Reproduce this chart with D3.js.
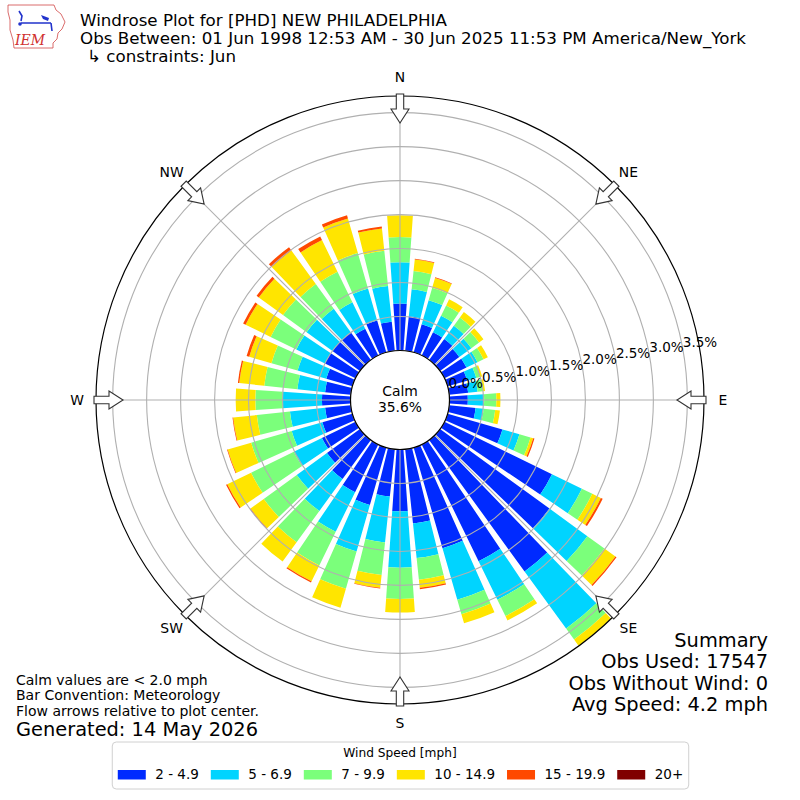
<!DOCTYPE html>
<html>
<head>
<meta charset="utf-8">
<script src="https://cdn.jsdelivr.net/npm/d3@7"></script>
<style>
body { margin: 0; background: #fff; }
svg { font-family: "DejaVu Sans", sans-serif; }
</style>
</head>
<body>
<div id="viz_windrose"></div>
<script>
// directions (deg, meteorological) and percent of obs per speed bin
const directions = [0, 10, 20, 30, 40, 50, 60, 70, 80, 90, 100, 110, 120, 130, 140, 150, 160, 170,
                    180, 190, 200, 210, 220, 230, 240, 250, 260, 270, 280, 290, 300, 310, 320, 330, 340, 350];
const pct_2_5   = [.69, .51, .43, .38, .38, .35, .36, .30, .28, .27, .39, .84, 1.76, 1.99, 2.39, 1.91, 1.54, 1.10,
                   .91, .70, .88, .78, .71, .60, .55, .46, .38, .42, .38, .40, .50, .50, .50, .44, .49, .43];
const pct_5_7   = [.61, .40, .37, .27, .24, .22, .18, .14, .14, .24, .12, .26, .49, .69, 1.04, .63, .79, .51,
                   .83, .68, .71, .65, .58, .55, .46, .47, .52, .58, .41, .44, .47, .47, .43, .43, .49, .53];
const pct_7_10  = [.37, .27, .19, .17, .15, .14, .10, .06, .08, .18, .17, .17, .17, .31, .20, .27, .22, .32,
                   .46, .48, .57, .55, .57, .60, .70, .62, .49, .40, .49, .40, .42, .43, .45, .50, .54, .52];
const pct_10_15 = [.32, .17, .15, .10, .10, .08, .07, .03, .03, .06, .07, .04, .14, .20, .11, .07, .14, .12,
                   .20, .19, .29, .26, .35, .24, .39, .36, .35, .29, .37, .34, .41, .44, .61, .52, .53, .33];
const pct_15_20 = [0, .01, .01, 0, 0, 0, 0, 0, 0, 0, 0, .02, .03, .02, 0, 0, 0, .02,
                   0, .01, 0, .02, 0, .01, .02, .01, .01, 0, .02, .04, .04, .04, .06, .06, .05, .03];
const pct_20p   = [0, 0, 0, 0, 0, 0, 0, 0, 0, 0, 0, 0, 0, 0, 0, 0, 0, 0,
                   0, 0, 0, 0, 0, 0, 0, 0, 0, 0, 0, 0, 0, 0, 0, 0, 0, 0];
const speedBins = ['2 - 4.9', '5 - 6.9', '7 - 9.9', '10 - 14.9', '15 - 19.9', '20+'];
const binColors = ['#002aff', '#00d4ff', '#7bff7b', '#ffe500', '#ff4900', '#800000'];
const calmPct = 35.6;
const ringTicks = [0, 0.5, 1.0, 1.5, 2.0, 2.5, 3.0, 3.5];
const compassNames = ['N', 'NE', 'E', 'SE', 'S', 'SW', 'W', 'NW'];
const compassAngles = [0, 45, 90, 135, 180, 225, 270, 315];

const titleLines = ['Windrose Plot for [PHD] NEW PHILADELPHIA',
                    'Obs Between: 01 Jun 1998 12:53 AM - 30 Jun 2025 11:53 PM America/New_York',
                    '\u21b3 constraints: Jun'];
const noteLines = ['Calm values are < 2.0 mph', 'Bar Convention: Meteorology', 'Flow arrows relative to plot center.'];
const generatedText = 'Generated: 14 May 2026';
const summaryLines = ['Summary', 'Obs Used: 17547', 'Obs Without Wind: 0', 'Avg Speed: 4.2 mph'];

const width = 800, height = 800;
const cx = 400, cy = 400;
const rOuter = 304;
const rad = Math.PI / 180;

const svg = d3.select('#viz_windrose')
    .append('svg')
    .attr('width', width)
    .attr('height', height);

// radial scale, calm circle sits at 0%
const r = d3.scaleLinear().domain([0, 3.745]).range([49.5, rOuter]);

const rows = directions.map(function(dir, i) {
    const row = {dir: dir};
    const cols = [pct_2_5, pct_5_7, pct_7_10, pct_10_15, pct_15_20, pct_20p];
    speedBins.forEach(function(b, j) { row[b] = cols[j][i]; });
    return row;
});
const layers = d3.stack().keys(speedBins)(rows);

svg.append('defs').append('clipPath').attr('id', 'rose_clip')
    .append('circle').attr('cx', 0).attr('cy', 0).attr('r', rOuter);

const arc = d3.arc()
    .innerRadius(d => r(d[0]))
    .outerRadius(d => r(d[1]))
    .startAngle(d => (d.data.dir - 4) * rad)
    .endAngle(d => (d.data.dir + 4) * rad);

const rose = svg.append('g')
    .attr('transform', `translate(${cx},${cy})`);

// bars
rose.append('g')
    .attr('clip-path', 'url(#rose_clip)')
    .selectAll('g')
    .data(layers)
    .join('g')
    .attr('fill', (d, i) => binColors[i])
    .selectAll('path')
    .data(d => d.filter(p => p[1] - p[0] > 0))
    .join('path')
    .attr('d', arc);

// grid rings and spokes (drawn above bars)
rose.append('g').selectAll('circle')
    .data(ringTicks)
    .join('circle')
    .attr('r', d => r(d))
    .attr('fill', 'none')
    .attr('stroke', '#b0b0b0')
    .attr('stroke-width', 1.1);

rose.append('g').selectAll('line')
    .data(compassAngles)
    .join('line')
    .attr('x1', d => r(0) * Math.sin(d * rad))
    .attr('y1', d => -r(0) * Math.cos(d * rad))
    .attr('x2', d => rOuter * Math.sin(d * rad))
    .attr('y2', d => -rOuter * Math.cos(d * rad))
    .attr('stroke', '#b0b0b0')
    .attr('stroke-width', 1.1);

// calm circle
rose.append('circle')
    .attr('r', r(0))
    .attr('fill', 'white')
    .attr('stroke', 'black')
    .attr('stroke-width', 1.2);
rose.append('text')
    .attr('text-anchor', 'middle')
    .attr('y', -4)
    .style('font-size', '13.9px')
    .text('Calm');
rose.append('text')
    .attr('text-anchor', 'middle')
    .attr('y', 12)
    .style('font-size', '13.9px')
    .text(calmPct.toFixed(1) + '%');

// ring labels
rose.append('g').selectAll('text')
    .data(ringTicks)
    .join('text')
    .attr('text-anchor', 'middle')
    .attr('x', d => r(d) * Math.cos(10 * rad) + 17)
    .attr('y', d => -r(d) * Math.sin(10 * rad) - 8.6 + 5)
    .style('font-size', '13.5px')
    .text(d => d.toFixed(1) + '%');

// outer frame
rose.append('circle')
    .attr('r', rOuter)
    .attr('fill', 'none')
    .attr('stroke', 'black')
    .attr('stroke-width', 1.2);

// compass arrows
rose.append('g').selectAll('path')
    .data(compassAngles)
    .join('path')
    .attr('transform', d => `rotate(${d})`)
    .attr('d', 'M0,-277 L9,-291 L3.7,-291 L3.7,-306 L-3.7,-306 L-3.7,-291 L-9,-291 Z')
    .attr('fill', 'white')
    .attr('stroke', '#333')
    .attr('stroke-width', 1.1);

rose.append('g').selectAll('text')
    .data(compassNames)
    .join('text')
    .attr('text-anchor', 'middle')
    .attr('x', (d, i) => 323 * Math.sin(compassAngles[i] * rad))
    .attr('y', (d, i) => -323 * Math.cos(compassAngles[i] * rad) + 5)
    .style('font-size', '13.9px')
    .text(d => d);

// title block
svg.append('g').selectAll('text')
    .data(titleLines)
    .join('text')
    .attr('x', (d, i) => i == 2 ? 87 : 80)
    .attr('y', (d, i) => 26 + i * 18)
    .style('font-size', '16.7px')
    .text(d => d);

// IEM logo (rough)
const logo = svg.append('g');
logo.append('path')
    .attr('d', 'M8,5 L54,5 L56,10 L61,14 L65,22 L62,29 L58,33 L57,39 L53,43 L53,48 L14,48 L13,40 L10,30 L10,20 L8,12 Z')
    .attr('fill', 'white')
    .attr('stroke', '#d04848')
    .attr('stroke-width', 0.8);
logo.append('path')
    .attr('d', 'M21,23 L51,23 M51,23 L52,31 M19,11 L22,16 L21,21')
    .attr('fill', 'none')
    .attr('stroke', '#2233cc')
    .attr('stroke-width', 1.6);
logo.append('path')
    .attr('d', 'M41,15 L49,18 L48,21 L43,19 Z')
    .attr('fill', '#2233cc');
logo.append('circle').attr('cx', 20).attr('cy', 24).attr('r', 1.8).attr('fill', '#2233cc');
logo.append('text')
    .attr('x', 15)
    .attr('y', 45)
    .style('font-family', '"DejaVu Serif", serif')
    .style('font-style', 'italic')
    .style('font-size', '14px')
    .attr('fill', '#d03030')
    .text('IEM');

// notes, bottom left
svg.append('g').selectAll('text')
    .data(noteLines)
    .join('text')
    .attr('x', 16)
    .attr('y', (d, i) => 684.5 + i * 15.8)
    .style('font-size', '14px')
    .text(d => d);
svg.append('text')
    .attr('x', 16)
    .attr('y', 735.5)
    .style('font-size', '19.4px')
    .text(generatedText);

// summary, bottom right
svg.append('g').selectAll('text')
    .data(summaryLines)
    .join('text')
    .attr('x', 768)
    .attr('y', (d, i) => 646.7 + i * 21.4)
    .attr('text-anchor', 'end')
    .style('font-size', '19.4px')
    .text(d => d);

// legend
const legend = svg.append('g');
const legendBox = legend.append('rect')
    .attr('y', 742)
    .attr('height', 47)
    .attr('rx', 4)
    .attr('fill', 'white')
    .attr('stroke', '#d0d0d0')
    .attr('stroke-width', 1);
legend.append('text')
    .attr('x', 400)
    .attr('y', 757)
    .attr('text-anchor', 'middle')
    .style('font-size', '12.2px')
    .text('Wind Speed [mph]');

const items = legend.append('g');
let xpos = 0;
speedBins.forEach(function(b, i) {
    items.append('rect')
        .attr('x', xpos)
        .attr('y', 770)
        .attr('width', 28)
        .attr('height', 9.5)
        .attr('fill', binColors[i]);
    const t = items.append('text')
        .attr('x', xpos + 37.5)
        .attr('y', 779)
        .style('font-size', '13.5px')
        .text(b);
    xpos += 37.5 + t.node().getComputedTextLength() + 12;
});
const itemsWidth = xpos - 12;
const x0 = 400.5 - itemsWidth / 2;
items.attr('transform', `translate(${x0},0)`);
legendBox.attr('x', x0 - 5.5).attr('width', itemsWidth + 11);
</script>
</body>
</html>
